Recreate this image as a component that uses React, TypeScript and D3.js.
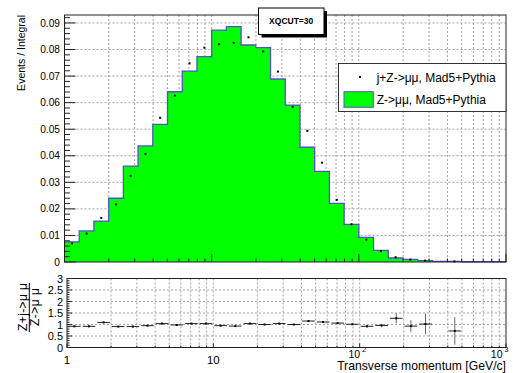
import React from 'react';
import * as d3 from 'd3';

// Bin edges (log-spaced, 0.1 decade) — category axis
const binEdges = [1, 1.2589, 1.5849, 1.9953, 2.5119, 3.1623, 3.9811, 5.0119, 6.3096, 7.9433,
  10, 12.589, 15.849, 19.953, 25.119, 31.623, 39.811, 50.119, 63.096, 79.433,
  100, 125.89, 158.49, 199.53, 251.19, 316.23, 398.11, 501.19, 630.96, 794.33, 1000];

// Z->mumu, Mad5+Pythia (filled histogram)
const zmumu = [0.0076, 0.0117, 0.0154, 0.0240, 0.0361, 0.0437, 0.0518, 0.0641, 0.0719, 0.0773,
  0.0873, 0.0886, 0.0817, 0.0807, 0.0689, 0.0591, 0.0432, 0.0341, 0.0221, 0.0142,
  0.0093, 0.0044, 0.0015, 0.0010, 0.0005, 0.0002, 0.0002, 0.0001, 0.0001, 0.0001];

// j+Z->mumu, Mad5+Pythia (points)
const jzmumu: (number | null)[] = [0.0070, 0.0107, 0.0166, 0.0217, 0.0324, 0.0407, 0.0543, 0.0626, 0.0748, 0.0807,
  0.0820, 0.0825, 0.0846, 0.0793, 0.0717, 0.0584, 0.0494, 0.0374, 0.0234, 0.0142,
  0.0084, 0.0041, 0.0018, 0.0009, 0.0005, null, 0.0002, null, null, null];

// Ratio panel
const ratio: (number | null)[] = [0.92, 0.92, 1.09, 0.91, 0.91, 0.95, 1.04, 0.98, 1.04, 1.04,
  0.95, 0.93, 1.04, 1.0, 1.04, 1.0, 1.15, 1.11, 1.06, 1.01,
  0.92, 0.96, 1.27, 0.93, 1.02, null, 0.72, null, null, null];
const ratioErr = [0.01, 0.01, 0.01, 0.01, 0.01, 0.01, 0.01, 0.01, 0.01, 0.01,
  0.01, 0.01, 0.01, 0.01, 0.01, 0.01, 0.01, 0.01, 0.02, 0.03,
  0.04, 0.06, 0.22, 0.25, 0.45, 0, 0.6, 0, 0, 0];

const yTicksTop = [0, 0.01, 0.02, 0.03, 0.04, 0.05, 0.06, 0.07, 0.08, 0.09];
const yTickLabelsTop = ['0', '0.01', '0.02', '0.03', '0.04', '0.05', '0.06', '0.07', '0.08', '0.09'];
const yTicksRatio = [0, 0.5, 1, 1.5, 2, 2.5, 3];
const yTickLabelsRatio = ['0', '0.5', '1', '1.5', '2', '2.5', '3'];
const xLabelTicks = [1, 10, 100, 1000];
const xLabelBase = ['1', '10', '10', '10'];
const xLabelExp = ['', '', '2', '3'];

const FONT = '"Liberation Sans", Arial, Helvetica, sans-serif';
const GREEN = '#00ff00';
const BLUE = '#5353c9';
const GRID = '#8a8a8a';

export default function App() {
  const W = 513, H = 373;
  const T = { l: 64.5, r: 506, t: 15, b: 262 };
  const B = { l: 67, r: 506, t: 278.5, b: 347.5 };

  const xT = d3.scaleLog().domain([1, 1000]).range([T.l, T.r]);
  const yT = d3.scaleLinear().domain([0, 0.093]).range([T.b, T.t]);
  const xB = d3.scaleLog().domain([1, 1000]).range([B.l, B.r]);
  const yB = d3.scaleLinear().domain([0, 3]).range([B.b, B.t]);

  const xAllTicks = xT.ticks(); // 1..9,10..90,100..1000
  const xGridTicks = xAllTicks.filter(v => v > 1 && v < 1000);

  const stepData: [number, number][] = zmumu.map((v, i) => [binEdges[i], v] as [number, number]);
  stepData.push([binEdges[30], zmumu[29]]);

  const area = d3.area<[number, number]>()
    .x(d => xT(d[0])).y0(yT(0)).y1(d => yT(d[1]))
    .curve(d3.curveStepAfter);
  const line = d3.line<[number, number]>()
    .x(d => xT(d[0])).y(d => yT(d[1]))
    .curve(d3.curveStepAfter);

  const yMinorTop = d3.range(0, 47).map(i => i * 0.002);
  const yMinorRatio = d3.range(0, 31).map(i => i * 0.1);

  const centerT = (i: number) => Math.sqrt(binEdges[i] * binEdges[i + 1]);

  return (
    <svg width={W} height={H} style={{ position: 'absolute', left: 0, top: 0, background: '#fff' }}
      fontFamily={FONT}>
      <rect x={0} y={0} width={W} height={H} fill="#fff" />

      {/* ===== TOP PANEL ===== */}
      <g>
        {xGridTicks.map((v, i) => (
          <line key={'gx' + i} x1={xT(v)} x2={xT(v)} y1={T.t} y2={T.b}
            stroke={GRID} strokeWidth={0.8} strokeDasharray="2,2" />
        ))}
        {yTicksTop.filter(v => v > 0).map((v, i) => (
          <line key={'gy' + i} x1={T.l} x2={T.r} y1={yT(v)} y2={yT(v)}
            stroke={GRID} strokeWidth={0.8} strokeDasharray="2,2" />
        ))}

        <path d={area(stepData) || ''} fill={GREEN} stroke="none" />
        <path d={line(stepData) || ''} fill="none" stroke={BLUE} strokeWidth={1.3} />
        <line x1={xT(1000)} x2={xT(1000)} y1={yT(zmumu[29])} y2={yT(0)} stroke={BLUE} strokeWidth={1.3} />

        {jzmumu.map((v, i) => v == null ? null : (
          <rect key={'p' + i} x={xT(centerT(i)) - 1} y={yT(v) - 1} width={2} height={2} fill="#000" />
        ))}

        {xAllTicks.map((v, i) => {
          const major = v === 1 || v === 10 || v === 100 || v === 1000;
          return (
            <line key={'tx' + i} x1={xT(v)} x2={xT(v)} y1={T.b} y2={T.b - (major ? 8 : 3.5)}
              stroke="#222" strokeWidth={1} />
          );
        })}
        {yMinorTop.map((v, i) => {
          const major = i % 5 === 0;
          return (
            <line key={'ty' + i} x1={T.l} x2={T.l + (major ? 11 : 5.5)} y1={yT(v)} y2={yT(v)}
              stroke="#222" strokeWidth={1} />
          );
        })}
        {yTicksTop.map((v, i) => (
          <text key={'ly' + i} x={60} y={yT(v) + 3.6} fontSize={10.2} textAnchor="end" fill="#000">
            {yTickLabelsTop[i]}
          </text>
        ))}

        <rect x={T.l} y={T.t} width={T.r - T.l} height={T.b - T.t} fill="none" stroke="#222" strokeWidth={1} />

        <text transform={`translate(24.5, ${T.t}) rotate(-90)`} textAnchor="end" fontSize={10.5} fill="#000">
          Events / Integral
        </text>

        {/* title box */}
        <rect x={261.5} y={11} width={65.5} height={26.5} fill="#000" />
        <rect x={258.5} y={8} width={65.5} height={26.5} fill="#fff" stroke="#000" strokeWidth={1} />
        <text x={291.2} y={24.2} textAnchor="middle" fontSize={8.5} fontWeight="bold" fill="#000">XQCUT=30</text>

        {/* legend */}
        <rect x={338.5} y={63.5} width={167.5} height={48} fill="#fff" stroke="#333" strokeWidth={1} />
        <rect x={359} y={76} width={2} height={2} fill="#000" />
        <text x={376.7} y={81.7} fontSize={12} fill="#000">j+Z-&gt;μμ, Mad5+Pythia</text>
        <rect x={344} y={91.7} width={29.3} height={15.6} fill={GREEN} stroke={BLUE} strokeWidth={1} />
        <text x={376.7} y={103.5} fontSize={12} fill="#000">Z-&gt;μμ, Mad5+Pythia</text>
      </g>

      {/* ===== RATIO PANEL ===== */}
      <g>
        {xGridTicks.map((v, i) => (
          <line key={'bgx' + i} x1={xB(v)} x2={xB(v)} y1={B.t} y2={B.b}
            stroke={GRID} strokeWidth={0.8} strokeDasharray="2,2" />
        ))}
        {yTicksRatio.filter(v => v > 0 && v < 3).map((v, i) => (
          <line key={'bgy' + i} x1={B.l} x2={B.r} y1={yB(v)} y2={yB(v)}
            stroke={GRID} strokeWidth={0.8} strokeDasharray="2,2" />
        ))}

        {ratio.map((r, i) => {
          if (r == null) return null;
          const cx = xB(Math.sqrt(binEdges[i] * binEdges[i + 1]));
          const cy = yB(r);
          const e = ratioErr[i];
          return (
            <g key={'r' + i}>
              <line x1={xB(binEdges[i]) + 1} x2={xB(binEdges[i + 1]) - 1} y1={cy} y2={cy} stroke="#222" strokeWidth={1} />
              {e > 0.03 && (
                <line x1={cx} x2={cx} y1={yB(r - e)} y2={yB(r + e)} stroke="#666" strokeWidth={1} />
              )}
              <rect x={cx - 1} y={cy - 1} width={2} height={2} fill="#000" />
            </g>
          );
        })}

        {xAllTicks.map((v, i) => {
          const major = v === 1 || v === 10 || v === 100 || v === 1000;
          return (
            <line key={'btx' + i} x1={xB(v)} x2={xB(v)} y1={B.b} y2={B.b - (major ? 4 : 2)}
              stroke="#222" strokeWidth={1} />
          );
        })}
        {yMinorRatio.map((v, i) => {
          const major = i % 5 === 0;
          return (
            <line key={'bty' + i} x1={B.l} x2={B.l + (major ? 5 : 2.5)} y1={yB(v)} y2={yB(v)}
              stroke="#222" strokeWidth={1} />
          );
        })}
        {yTicksRatio.map((v, i) => (
          <text key={'bly' + i} x={63} y={yB(v) + 4} fontSize={11} textAnchor="end" fill="#000">
            {yTickLabelsRatio[i]}
          </text>
        ))}
        {xLabelTicks.map((v, i) => {
          const exp = xLabelExp[i];
          if (!exp) {
            return (
              <text key={'blx' + i} x={xB(v)} y={364} fontSize={11.5} textAnchor="middle" fill="#000">
                {xLabelBase[i]}
              </text>
            );
          }
          const baseEnd = Math.min(xB(v) + 0.5, 502.5);
          return (
            <g key={'blx' + i}>
              <text x={baseEnd} y={357.8} fontSize={10.5} textAnchor="end" fill="#000">{xLabelBase[i]}</text>
              <text x={baseEnd + 1.8} y={351.5} fontSize={7.5} textAnchor="start" fill="#000">{exp}</text>
            </g>
          );
        })}

        <rect x={B.l} y={B.t} width={B.r - B.l} height={B.b - B.t} fill="none" stroke="#222" strokeWidth={1} />

        <g transform="translate(29.3, 307) rotate(-90)">
          <text x={0} y={-2.5} textAnchor="middle" fontSize={12} textLength={48} lengthAdjust="spacing" fill="#000">Z+j-&gt;μ μ</text>
          <line x1={-25} x2={24} y1={0} y2={0} stroke="#000" strokeWidth={1} />
          <text x={0} y={9.5} textAnchor="middle" fontSize={12} textLength={38} lengthAdjust="spacing" fill="#000">Z-&gt;μ μ</text>
        </g>
        <text x={506} y={370.3} textAnchor="end" fontSize={12.2} fill="#000">Transverse momentum [GeV/c]</text>
      </g>
    </svg>
  );
}
